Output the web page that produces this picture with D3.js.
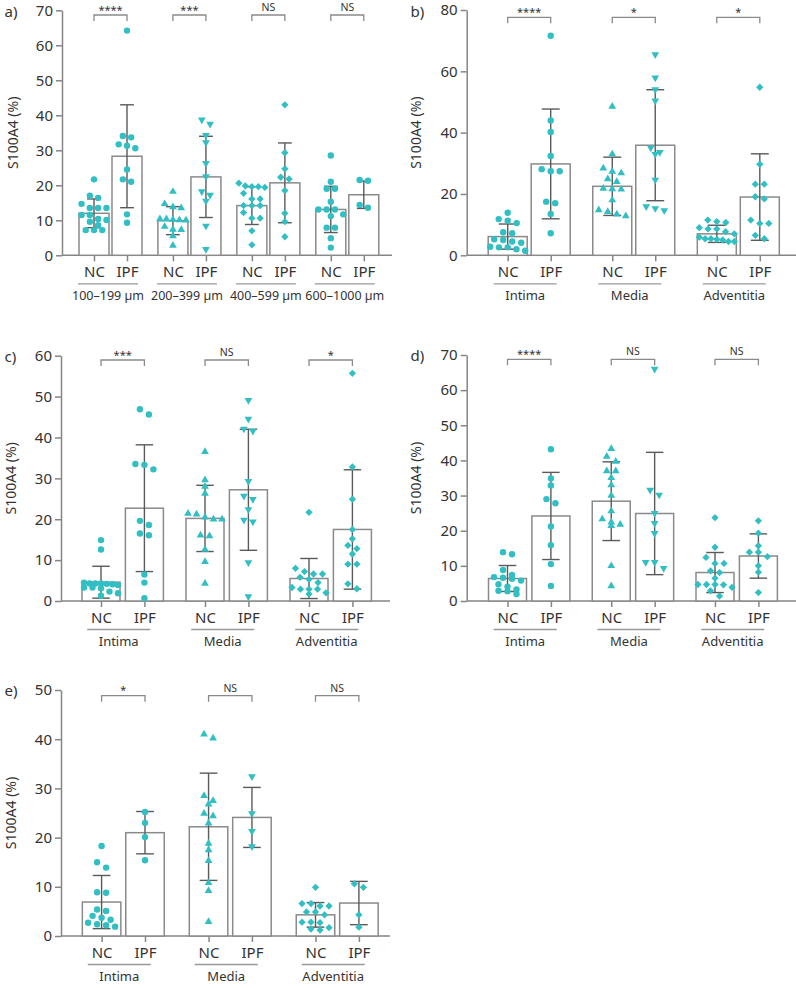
<!DOCTYPE html>
<html>
<head>
<meta charset="utf-8">
<script src="https://cdn.jsdelivr.net/npm/d3@7"></script>
<style>
  body { margin: 0; background: #fff; }
  text { font-family: 'Noto Sans', sans-serif; fill: #333; }
</style>
</head>
<body>
<script>
// categories
const sizeGroups = ['100–199 µm', '200–399 µm', '400–599 µm', '600–1000 µm'];
const layers = ['Intima', 'Media', 'Adventitia'];
const cohorts = ['NC', 'IPF'];

// panel a) vessel size
const aNC = [
  [21.7, 17.0, 16.4, 14.7, 13.5, 13.5, 13.5, 11.5, 11.5, 10.4, 10.1, 9.6, 8.6, 7.2, 7.2, 7.2],
  [18.2, 14.7, 13.8, 13.5, 10.4, 10.4, 10.2, 10.1, 10.0, 8.2, 7.4, 7.3, 5.5, 2.8],
  [20.6, 19.8, 19.6, 19.6, 19.4, 17.7, 16.1, 16.1, 14.2, 14.2, 14.2, 12.2, 10.6, 10.6, 7.0, 3.0],
  [28.5, 21.0, 19.0, 19.0, 15.3, 13.1, 13.1, 13.1, 11.7, 11.2, 7.9, 7.9, 4.9, 2.2]
];
const aIPF = [
  [64.2, 34.1, 33.7, 31.7, 31.3, 30.6, 24.5, 21.7, 21.0, 11.7, 9.3],
  [38.7, 37.5, 34.3, 32.2, 26.3, 22.5, 18.2, 17.2, 15.5, 8.4, 1.7],
  [43.0, 29.3, 24.7, 22.3, 21.8, 18.5, 12.0, 9.6, 5.3],
  [21.5, 21.3, 14.4, 13.6]
];
const aMeanNC = [12.0, 9.9, 14.2, 13.1];
const aSdNC = [4.1, 4.0, 5.4, 6.6];
const aMeanIPF = [28.3, 22.4, 20.7, 17.3];
const aSdIPF = [14.7, 11.6, 11.4, 3.9];
const aSig = ['****', '***', 'NS', 'NS'];

// panel b)
const bNC = [
  [13.9, 11.8, 11.3, 10.5, 7.5, 7.2, 5.2, 5.0, 4.5, 4.1, 2.8, 2.6, 2.6, 2.0, 1.5],
  [48.5, 33.0, 28.4, 27.3, 26.8, 24.9, 24.0, 21.8, 21.6, 21.5, 18.0, 14.8, 14.2, 13.4, 12.8],
  [11.5, 11.0, 10.7, 9.0, 8.6, 8.6, 7.7, 7.0, 5.9, 5.4, 5.4, 5.2, 5.0, 4.5, 4.5]
];
const bIPF = [
  [71.6, 44.0, 40.2, 32.4, 28.1, 27.4, 27.4, 17.5, 17.0, 13.5, 7.2],
  [65.5, 57.9, 54.1, 50.4, 35.1, 33.6, 33.0, 24.6, 15.9, 15.3, 14.6],
  [54.8, 29.7, 23.2, 23.2, 19.1, 18.4, 11.5, 10.4, 10.4, 6.5, 5.4]
];
const bMeanNC = [6.1, 22.5, 7.0];
const bSdNC = [4.1, 9.5, 2.8];
const bMeanIPF = [29.8, 35.9, 19.0];
const bSdIPF = [17.9, 18.1, 14.1];
const bSig = ['****', '*', '*'];

// panel c)
const cNC = [
  [14.9, 12.6, 4.5, 4.3, 4.3, 4.3, 4.2, 4.1, 3.9, 3.3, 3.3, 3.1, 2.3, 1.9, 1.3],
  [36.5, 29.6, 28.0, 26.3, 21.4, 21.2, 20.5, 20.0, 20.0, 16.1, 15.9, 12.6, 9.6, 4.3],
  [21.7, 8.0, 7.2, 6.6, 6.6, 5.8, 5.3, 4.5, 3.3, 2.9, 2.9, 2.9, 2.0, 1.7]
];
const cIPF = [
  [46.9, 45.6, 33.5, 33.3, 32.2, 19.6, 18.6, 16.5, 16.1, 6.5, 4.5, 0.7],
  [49.1, 44.5, 42.1, 41.6, 29.3, 25.7, 24.9, 22.4, 19.8, 19.4, 9.4, 1.1],
  [55.7, 32.8, 24.9, 17.5, 15.2, 13.6, 12.8, 11.5, 9.0, 9.0, 4.2, 3.0]
];
const cMeanNC = [4.6, 20.2, 5.5];
const cSdNC = [3.9, 8.1, 4.9];
const cMeanIPF = [22.7, 27.2, 17.5];
const cSdIPF = [15.5, 14.8, 14.6];
const cSig = ['***', 'NS', '*'];

// panel d)
const dNC = [
  [13.9, 13.3, 8.8, 7.4, 6.8, 6.6, 6.3, 5.8, 4.8, 4.1, 3.3, 2.9, 2.8, 2.0],
  [43.3, 41.1, 39.7, 37.0, 37.0, 35.1, 33.0, 30.0, 25.6, 23.3, 22.4, 21.8, 21.4, 10.0, 4.3],
  [23.7, 15.3, 12.4, 10.7, 10.7, 8.6, 8.1, 6.5, 4.7, 4.7, 4.7, 4.6, 3.9, 2.9, 1.4]
];
const dIPF = [
  [43.2, 34.9, 32.9, 29.0, 27.8, 21.2, 15.9, 10.5, 4.3],
  [66.0, 31.6, 30.2, 25.0, 22.1, 19.3, 11.0, 11.0, 9.3],
  [22.8, 19.3, 15.7, 13.9, 13.9, 12.6, 10.0, 8.2, 2.4]
];
const dMeanNC = [6.4, 28.4, 8.1];
const dSdNC = [3.7, 11.2, 5.7];
const dMeanIPF = [24.2, 24.9, 12.8];
const dSdIPF = [12.4, 17.4, 6.3];
const dSig = ['****', 'NS', 'NS'];

// panel e)
const eNC = [
  [18.3, 15.0, 13.9, 8.9, 8.8, 5.4, 5.1, 4.1, 3.7, 3.3, 2.7, 2.4, 2.2, 1.9],
  [41.0, 40.2, 28.5, 27.5, 26.8, 24.9, 24.4, 22.9, 18.8, 17.5, 15.3, 10.8, 9.2, 2.9],
  [9.9, 6.6, 6.6, 6.1, 6.1, 4.9, 4.9, 4.3, 2.8, 2.8, 2.7, 1.7, 1.4, 1.2]
];
const eIPF = [
  [25.2, 23.0, 20.1, 15.4],
  [32.4, 24.9, 21.3, 18.2],
  [10.6, 9.9, 4.3, 1.8]
];
const eMeanNC = [6.9, 22.2, 4.3];
const eSdNC = [5.4, 10.9, 2.5];
const eMeanIPF = [21.0, 24.1, 6.7];
const eSdIPF = [4.3, 6.1, 4.4];
const eSig = ['*', 'NS', 'NS'];

const teal = '#31bfc4';
const axisGrey = '#858585';
const barGrey = '#8a8a8a';
const errGrey = '#5a5a5a';

const svg = d3.select('body').append('svg')
  .attr('width', 796)
  .attr('height', 988);

function symbolPath(shape, r) {
  if (shape === 'circle') return d3.symbol(d3.symbolCircle, Math.PI * r * r)();
  if (shape === 'diamond') return d3.symbol(d3.symbolSquare, 2 * r * r * 1.3)();
  return d3.symbol(d3.symbolTriangle, 26)();
}

// simple row based swarm, like the prism dot plots
function swarm(values, y, step, rowH, maxW) {
  const pts = values.map(v => ({ v: v, py: y(v) })).sort((p, q) => p.py - q.py);
  const rows = [];
  pts.forEach(p => {
    const last = rows[rows.length - 1];
    if (last && p.py - last[0].py <= rowH && last.length < 7) last.push(p);
    else rows.push([p]);
  });
  rows.forEach(row => {
    const n = row.length;
    const st = n > 1 ? Math.min(step, maxW / (n - 1)) : 0;
    row.forEach((p, i) => { p.dx = (i - (n - 1) / 2) * st; });
  });
  return pts;
}

function drawPanel(cfg, groups, nc, ipf, mNC, sNC, mIPF, sIPF, sig, shapes) {
  const g = svg.append('g');

  const y = d3.scaleLinear().domain([0, cfg.max]).range([cfg.y0, cfg.yTop]);
  const gx = d3.scalePoint().domain(groups).range(cfg.centers);
  const ix = d3.scalePoint().domain(cohorts).range([-cfg.inner, cfg.inner]);

  const keys = [];
  groups.forEach(gr => cohorts.forEach(c => keys.push(gr + '|' + c)));
  const kx = d3.scaleOrdinal().domain(keys)
    .range(keys.map(k => gx(k.split('|')[0]) + ix(k.split('|')[1])));

  // y axis
  const yAxis = d3.axisLeft(y)
    .tickValues(d3.range(0, cfg.max + 1, cfg.step))
    .tickSize(6).tickSizeOuter(0).tickPadding(3);
  const ya = g.append('g')
    .attr('transform', `translate(${cfg.x},0)`)
    .call(yAxis);
  ya.select('.domain').attr('stroke', axisGrey).attr('stroke-width', 1.5);
  ya.selectAll('.tick line').attr('stroke', axisGrey).attr('stroke-width', 1.5);
  ya.selectAll('.tick text').attr('font-size', 15).attr('font-family', 'Noto Sans').attr('fill', '#333');

  // x axis
  g.append('line')
    .attr('x1', cfg.x).attr('x2', cfg.xEnd)
    .attr('y1', cfg.y0).attr('y2', cfg.y0)
    .attr('stroke', axisGrey).attr('stroke-width', 1.5);
  const xAxis = d3.axisBottom(kx)
    .tickSize(6).tickPadding(5)
    .tickFormat(k => k.split('|')[1]);
  const xa = g.append('g')
    .attr('transform', `translate(0,${cfg.y0})`)
    .call(xAxis);
  xa.select('.domain').remove();
  xa.selectAll('.tick line').attr('stroke', axisGrey).attr('stroke-width', 1.5);
  xa.selectAll('.tick text').attr('font-size', 15).attr('font-family', 'Noto Sans').attr('fill', '#333');

  // group underline + label
  groups.forEach(gr => {
    const cx = gx(gr) + cfg.lineShift;
    g.append('line')
      .attr('x1', cx - cfg.lineHalf).attr('x2', cx + cfg.lineHalf)
      .attr('y1', cfg.y0 + 28.5).attr('y2', cfg.y0 + 28.5)
      .attr('stroke', '#999').attr('stroke-width', 1.3);
    g.append('text')
      .attr('x', cx).attr('y', cfg.y0 + 45)
      .attr('text-anchor', 'middle')
      .attr('font-size', cfg.groupFont)
      .text(gr);
  });

  // bars, error bars, points
  groups.forEach((gr, gi) => {
    const sets = [
      { vals: nc[gi], mean: mNC[gi], sd: sNC[gi], shape: shapes[gi][0] },
      { vals: ipf[gi], mean: mIPF[gi], sd: sIPF[gi], shape: shapes[gi][1] }
    ];
    sets.forEach((s, ci) => {
      const cx = gx(gr) + ix(cohorts[ci]);
      g.append('rect')
        .attr('x', cx - cfg.barW / 2)
        .attr('y', y(s.mean))
        .attr('width', cfg.barW)
        .attr('height', y(0) - y(s.mean))
        .attr('fill', '#fff')
        .attr('stroke', barGrey).attr('stroke-width', 1.5);

      const lo = Math.max(0, s.mean - s.sd), hi = s.mean + s.sd;
      const cap = cfg.barW * 0.46;
      const eb = g.append('g').attr('stroke', errGrey).attr('stroke-width', 1.4);
      eb.append('line').attr('x1', cx).attr('x2', cx).attr('y1', y(lo)).attr('y2', y(hi));
      [lo, hi].forEach(v => {
        eb.append('line').attr('x1', cx - cap / 2).attr('x2', cx + cap / 2)
          .attr('y1', y(v)).attr('y2', y(v));
      });

      const pts = swarm(s.vals, y, cfg.swarmStep, 6.3, cfg.barW - 4);
      g.append('g').selectAll('path')
        .data(pts)
        .join('path')
        .attr('d', symbolPath(s.shape, 3.2))
        .attr('transform', p => `translate(${cx + p.dx},${p.py})` +
          (s.shape === 'down' ? ' rotate(180)' : s.shape === 'diamond' ? ' rotate(45)' : ''))
        .attr('fill', teal);
    });

    // significance bracket
    const x1 = gx(gr) + ix('NC'), x2 = gx(gr) + ix('IPF');
    g.append('path')
      .attr('d', `M${x1},${cfg.bY + 6}V${cfg.bY}H${x2}V${cfg.bY + 6}`)
      .attr('fill', 'none').attr('stroke', '#8a8a8a').attr('stroke-width', 1.3);
    const star = sig[gi] !== 'NS';
    g.append('text')
      .attr('x', (x1 + x2) / 2)
      .attr('y', star ? cfg.bY - 1.5 : cfg.bY - 4)
      .attr('text-anchor', 'middle')
      .attr('font-size', star ? 11 : 10.5)
      .text(sig[gi]);
  });

  // panel label and y title
  g.append('text')
    .attr('x', cfg.lx).attr('y', cfg.ly)
    .attr('font-size', 15)
    .text(cfg.label);
  g.append('text')
    .attr('transform', `translate(${cfg.titleX},${(cfg.y0 + cfg.yTop) / 2}) rotate(-90)`)
    .attr('text-anchor', 'middle')
    .attr('font-size', 14)
    .text('S100A4 (%)');
}

const shapesA = [['circle', 'circle'], ['up', 'down'], ['diamond', 'diamond'], ['circle', 'circle']];
const shapesL = [['circle', 'circle'], ['up', 'down'], ['diamond', 'diamond']];

drawPanel({ label: 'a)', lx: 4.5, ly: 17, x: 62, xEnd: 392, y0: 255.3, yTop: 10.3, max: 70, step: 10,
  centers: [110.5, 347.3], inner: 16.5, barW: 30, bY: 15, titleX: 17.5, swarmStep: 8.3,
  lineShift: -2.5, lineHalf: 30, groupFont: 12.5 },
  sizeGroups, aNC, aIPF, aMeanNC, aSdNC, aMeanIPF, aSdIPF, aSig, shapesA);

drawPanel({ label: 'b)', lx: 410.5, ly: 17, x: 466.7, xEnd: 796, y0: 255.3, yTop: 10, max: 80, step: 20,
  centers: [529.2, 738.3], inner: 21.5, barW: 39, bY: 17.3, titleX: 420.5, swarmStep: 9,
  lineShift: -4, lineHalf: 31.5, groupFont: 13 },
  layers, bNC, bIPF, bMeanNC, bSdNC, bMeanIPF, bSdIPF, bSig, shapesL);

drawPanel({ label: 'c)', lx: 4.5, ly: 362, x: 61, xEnd: 390, y0: 601, yTop: 355.7, max: 60, step: 10,
  centers: [122.7, 330.7], inner: 21.7, barW: 38, bY: 360, titleX: 16, swarmStep: 9,
  lineShift: -4, lineHalf: 31.5, groupFont: 13 },
  layers, cNC, cIPF, cMeanNC, cSdNC, cMeanIPF, cSdIPF, cSig, shapesL);

drawPanel({ label: 'd)', lx: 410.5, ly: 361, x: 466.7, xEnd: 796, y0: 601, yTop: 355, max: 70, step: 10,
  centers: [529.2, 736.7], inner: 21.7, barW: 38, bY: 359.3, titleX: 420.5, swarmStep: 9,
  lineShift: -4, lineHalf: 31.5, groupFont: 13 },
  layers, dNC, dIPF, dMeanNC, dSdNC, dMeanIPF, dSdIPF, dSig, shapesL);

drawPanel({ label: 'e)', lx: 4.5, ly: 696, x: 61, xEnd: 390, y0: 936, yTop: 690, max: 50, step: 10,
  centers: [123.3, 337.2], inner: 21.7, barW: 38.5, bY: 695.7, titleX: 16, swarmStep: 9,
  lineShift: -4, lineHalf: 31.5, groupFont: 13 },
  layers, eNC, eIPF, eMeanNC, eSdNC, eMeanIPF, eSdIPF, eSig, shapesL);
</script>
</body>
</html>
